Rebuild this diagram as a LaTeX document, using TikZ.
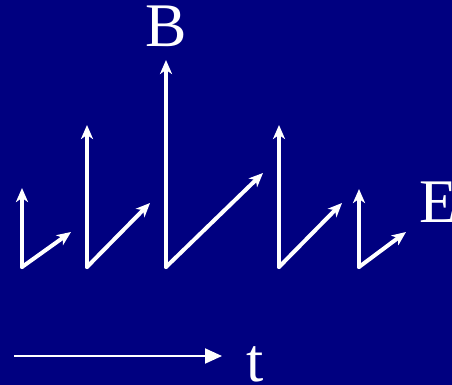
\documentclass[tikz,border=0pt]{standalone}
\usepackage{fontspec}
\setmainfont{Liberation Serif}
\usetikzlibrary{arrows.meta}
\definecolor{navy}{RGB}{0,0,128}

\begin{document}
\begin{tikzpicture}[x=1pt, y=-1pt, >={Stealth[length=14pt,width=12pt,inset=4pt]},
		field/.style={->, white, line width=4pt},
		lbl/.style={white, inner sep=0pt, font=\fontsize{62}{62}\selectfont}]
		% background
		\fill[navy] (0,0) rectangle (452,385);
		\useasboundingbox (0,0) rectangle (452,385);
		% B and E vectors along the wave
		\foreach \i/\x/\b/\ex/\ey in {1/22/188/71/232, 2/87/125/150/203, 3/166/60/263/173, 4/279/125/342/203, 5/359/189/406/232} {
			\coordinate (o\i) at (\x,267);
			\coordinate (b\i) at (\x,\b);
			\coordinate (e\i) at (\ex,\ey);
			\draw[field, line cap=round] (o\i) -- (b\i);
			\draw[field, line cap=round] (o\i) -- (e\i);
		}
		\node[lbl, anchor=base] (Blbl) at (166,47) {B};
		\node[lbl, anchor=base west] (Elbl) at (419,222) {E};
		% time axis
		\coordinate (t0) at (14,356);
		\coordinate (t1) at (222,356);
		\draw[-{Triangle[length=17pt,width=15pt]}, white, line width=2pt] (t0) -- (t1);
		\node[lbl, anchor=base west] (tlbl) at (246,381) {t};
	\end{tikzpicture}
\end{document}
